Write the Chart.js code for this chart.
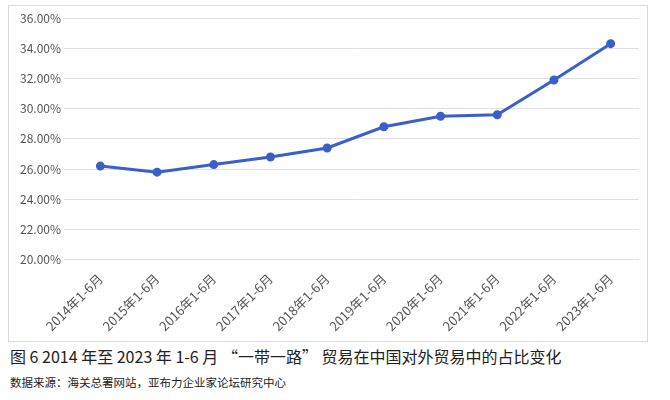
<!DOCTYPE html>
<html><head><meta charset="utf-8">
<script src="https://cdn.jsdelivr.net/npm/chart.js@4"></script>
<style>
body{margin:0;background:#fff;font-family:"Noto Sans CJK SC","Noto Sans",sans-serif;}
#box{position:absolute;left:8px;top:5px;width:640px;height:337px;border:1px solid #d9d9d9;box-sizing:border-box;}
#cap{position:absolute;left:10px;top:344px;font-size:16px;color:#222;white-space:nowrap;}
#src{position:absolute;left:10px;top:374px;font-size:11.5px;color:#222;white-space:nowrap;}
</style></head><body>
<div id="box"><canvas id="c" width="638" height="335"></canvas></div>
<div id="cap">图 6 2014 年至 2023 年 1-6 月 “一带一路” 贸易在中国对外贸易中的占比变化</div>
<div id="src">数据来源：海关总署网站，亚布力企业家论坛研究中心</div>
<script>
const categories=["2014年1-6月","2015年1-6月","2016年1-6月","2017年1-6月","2018年1-6月","2019年1-6月","2020年1-6月","2021年1-6月","2022年1-6月","2023年1-6月"];
const shares=[26.2,25.8,26.3,26.8,27.4,28.8,29.5,29.6,31.9,34.3];
new Chart(document.getElementById('c'),{type:'line',
data:{labels:categories,datasets:[{data:shares,borderColor:'#3a5fc8',backgroundColor:'#3a5fc8',borderWidth:3,pointRadius:3,pointHoverRadius:3,tension:0}]},
options:{responsive:false,animation:false,layout:{padding:{top:12,right:8,left:8,bottom:4}},
plugins:{legend:{display:false},tooltip:{enabled:false}},
scales:{x:{offset:true,grid:{display:false},border:{display:false},ticks:{color:'#555',font:{size:13,family:'"Noto Sans CJK SC"'},maxRotation:45,minRotation:45}},
y:{min:20,max:36,ticks:{stepSize:2,color:'#555',font:{size:12,family:'"Noto Sans CJK SC"'},callback:v=>v.toFixed(2)+'%'},grid:{color:'#e0e0e0'},border:{display:false}}}}});
</script></body></html>
